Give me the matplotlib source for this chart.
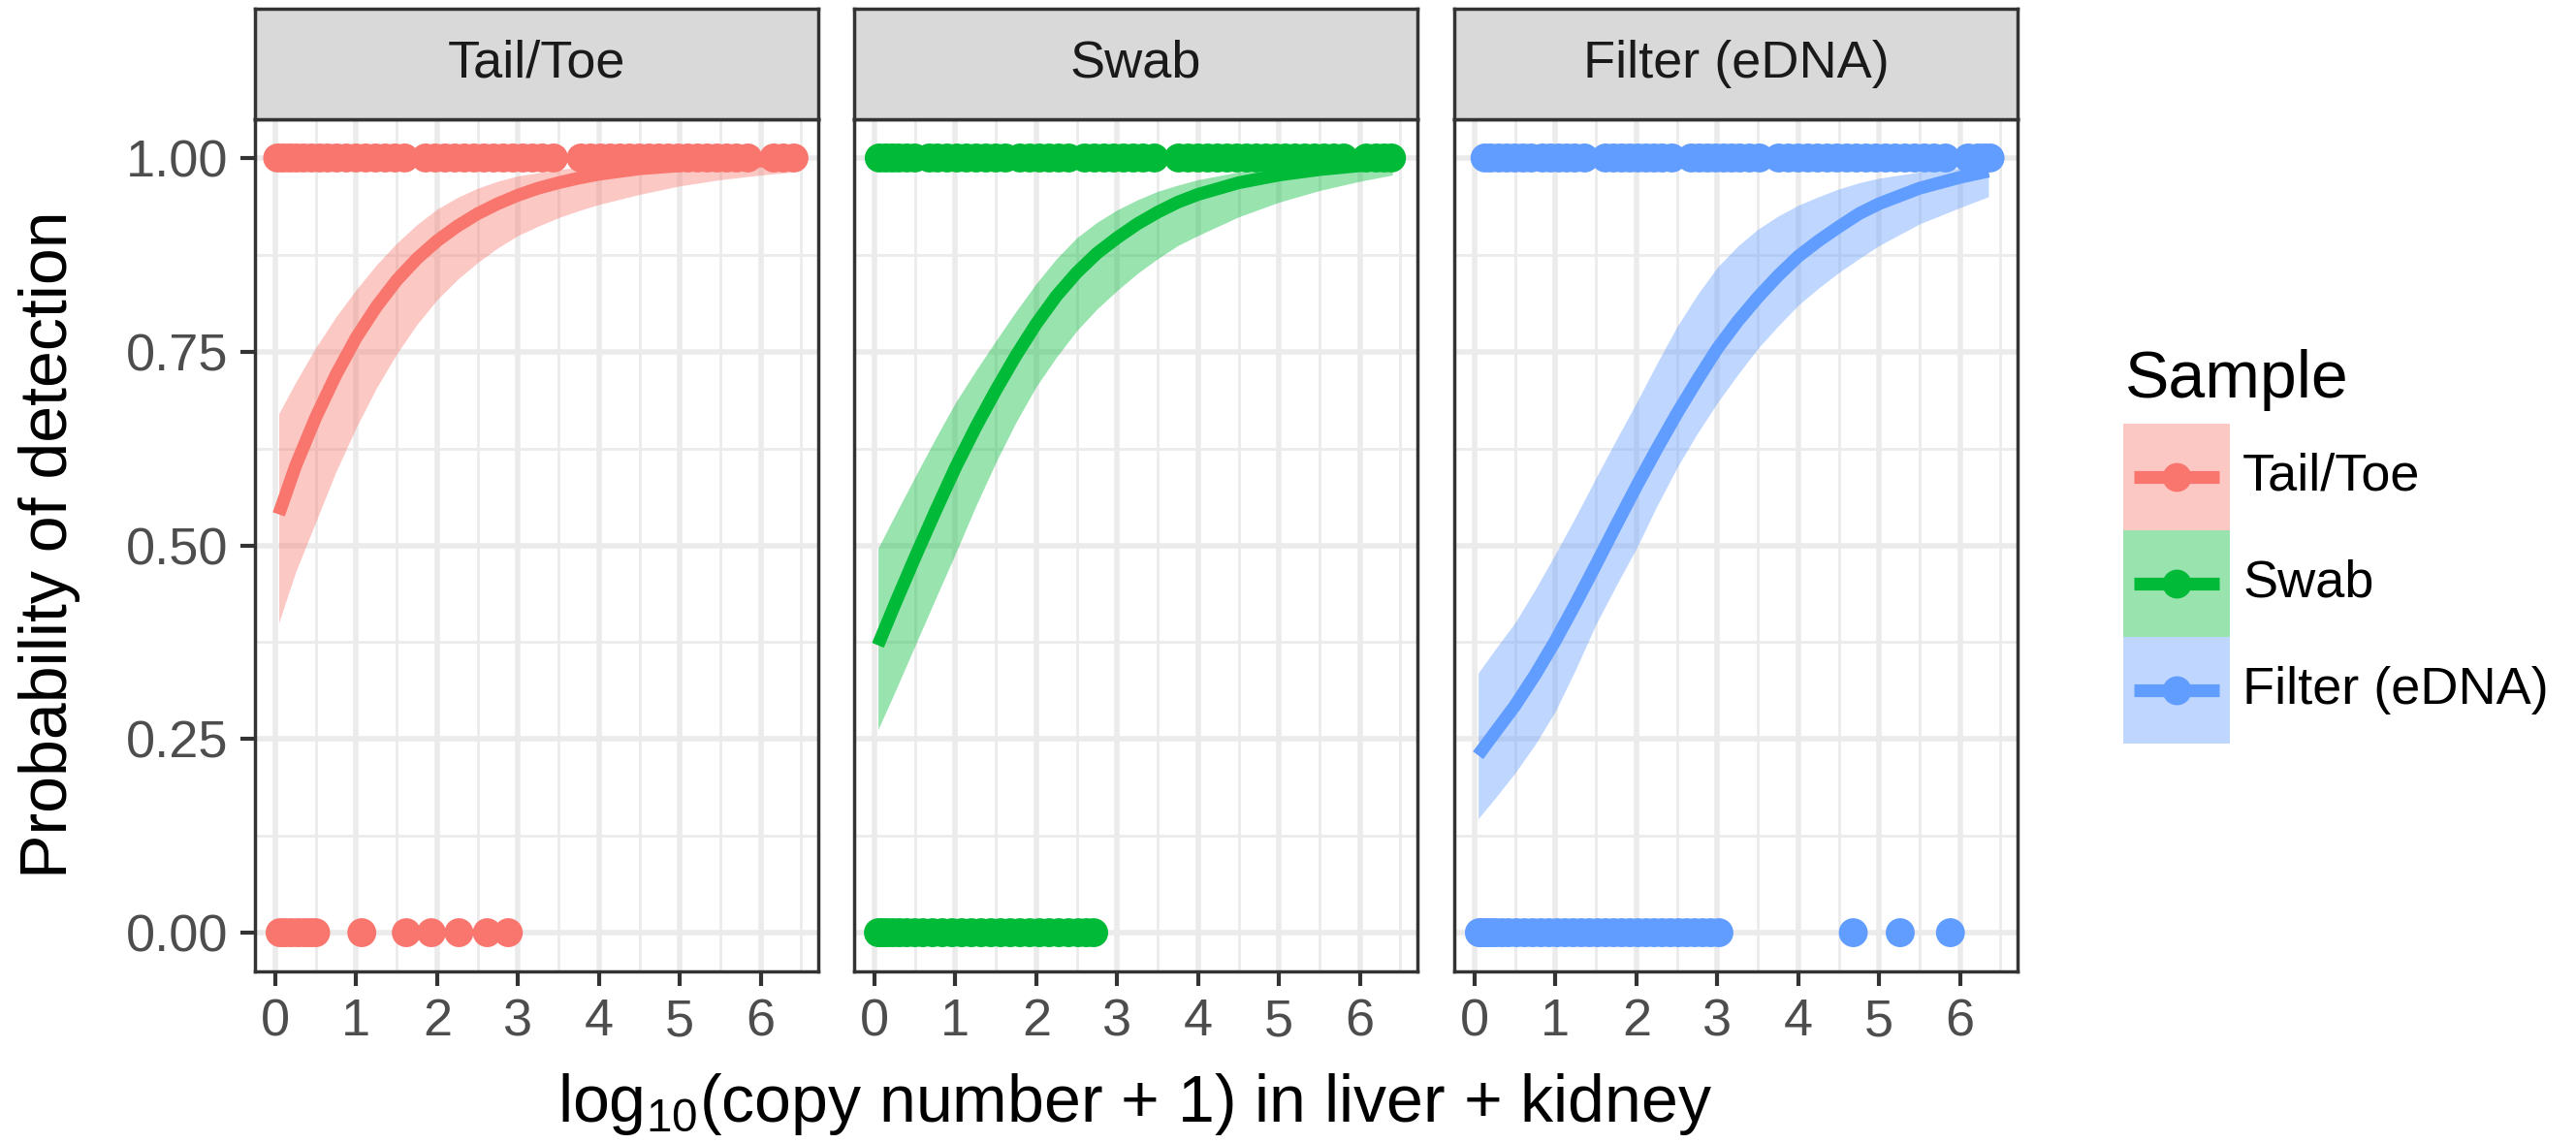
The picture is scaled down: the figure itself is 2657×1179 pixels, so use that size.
import matplotlib
matplotlib.use('Agg')
import matplotlib.pyplot as plt
from matplotlib.patches import Rectangle
from matplotlib.ticker import MultipleLocator
import numpy as np

plt.rcParams['font.family'] = ['Liberation Sans', 'DejaVu Sans']
plt.rcParams['mathtext.fontset'] = 'custom'
plt.rcParams['mathtext.rm'] = 'Liberation Sans'
plt.rcParams['mathtext.it'] = 'Liberation Sans:italic'
plt.rcParams['mathtext.default'] = 'regular'

# ---------------- data ----------------
samples = ['Tail/Toe', 'Swab', 'Filter (eDNA)']
colors = ['#F8766D', '#00BA38', '#619CFF']

# observed outcomes: x positions of detected (1) and not detected (0) samples
tail_detected = [0.03, 0.10, 0.18, 0.26, 0.35, 0.45, 0.55, 0.65, 0.76, 0.88, 1.00, 1.12, 1.24,
                 1.36, 1.48, 1.60, 1.86, 1.98, 2.10, 2.22, 2.34, 2.46, 2.58, 2.70, 2.82, 2.94,
                 3.06, 3.18, 3.30, 3.44, 3.78, 3.90, 4.02, 4.14, 4.26, 4.38, 4.50, 4.62, 4.74,
                 4.86, 4.98, 5.10, 5.22, 5.34, 5.46, 5.58, 5.70, 5.84, 6.16, 6.28, 6.41]
tail_missed = [0.06, 0.12, 0.20, 0.28, 0.36, 0.43, 0.50, 1.07, 1.62, 1.93, 2.27, 2.62, 2.88]

swab_detected = [0.06, 0.14, 0.22, 0.30, 0.40, 0.50, 0.68, 0.78, 0.90, 1.02, 1.14, 1.26, 1.38,
                 1.50, 1.62, 1.80, 1.92, 2.04, 2.16, 2.28, 2.40, 2.60, 2.72, 2.84, 2.96, 3.08,
                 3.20, 3.32, 3.46, 3.76, 3.88, 4.00, 4.12, 4.24, 4.36, 4.48, 4.60, 4.72, 4.84,
                 4.96, 5.08, 5.20, 5.32, 5.44, 5.56, 5.68, 5.80, 6.08, 6.20, 6.30, 6.39]
swab_missed = [0.05, 0.10, 0.16, 0.23, 0.31, 0.40, 0.50, 0.60, 0.72, 0.84, 0.96, 1.08, 1.20,
               1.32, 1.44, 1.56, 1.68, 1.80, 1.92, 2.04, 2.16, 2.28, 2.40, 2.52, 2.62, 2.71]

filter_detected = [0.13, 0.20, 0.30, 0.40, 0.50, 0.60, 0.70, 0.84, 0.94, 1.04, 1.14, 1.24, 1.36,
                   1.62, 1.72, 1.82, 1.92, 2.02, 2.12, 2.22, 2.32, 2.44, 2.68, 2.78, 2.88, 2.98,
                   3.08, 3.18, 3.28, 3.40, 3.52, 3.76, 3.88, 4.00, 4.12, 4.24, 4.36, 4.48, 4.60,
                   4.72, 4.84, 4.96, 5.08, 5.20, 5.32, 5.44, 5.56, 5.68, 5.82, 6.10, 6.22, 6.30, 6.37]
filter_missed = [0.06, 0.10, 0.15, 0.20, 0.26, 0.34, 0.42, 0.52, 0.62, 0.72, 0.82, 0.92, 1.02,
                 1.12, 1.22, 1.32, 1.42, 1.52, 1.62, 1.72, 1.82, 1.92, 2.02, 2.12, 2.22, 2.32,
                 2.42, 2.52, 2.62, 2.72, 2.82, 2.92, 3.02, 4.68, 5.26, 5.88]

# fitted curves with confidence band
tail_x = [0.044, 0.25, 0.5, 0.75, 1.0, 1.25, 1.5, 1.75, 2.0, 2.25, 2.5, 2.75, 3.0, 3.25, 3.5,
          3.75, 4.0, 4.5, 5.0, 5.5, 6.0, 6.4]
tail_fit = [0.54, 0.602, 0.665, 0.72, 0.768, 0.808, 0.842, 0.87, 0.893, 0.912, 0.928, 0.941,
            0.952, 0.961, 0.968, 0.974, 0.979, 0.986, 0.990, 0.994, 0.996, 0.997]
tail_hi = [0.67, 0.71, 0.755, 0.795, 0.83, 0.862, 0.89, 0.914, 0.934, 0.949, 0.961, 0.970,
           0.977, 0.981, 0.985, 0.988, 0.990, 0.993, 0.996, 0.997, 0.998, 0.999]
tail_lo = [0.40, 0.465, 0.53, 0.595, 0.652, 0.703, 0.747, 0.785, 0.817, 0.843, 0.865, 0.884,
           0.90, 0.912, 0.923, 0.932, 0.94, 0.953, 0.964, 0.972, 0.978, 0.982]

swab_x = [0.044, 0.25, 0.5, 0.75, 1.0, 1.25, 1.5, 1.75, 2.0, 2.25, 2.5, 2.75, 3.0, 3.25, 3.5,
          3.75, 4.0, 4.5, 5.0, 5.5, 6.0, 6.4]
swab_fit = [0.371, 0.423, 0.484, 0.543, 0.60, 0.652, 0.70, 0.745, 0.786, 0.822, 0.852, 0.877,
            0.897, 0.915, 0.93, 0.943, 0.953, 0.968, 0.978, 0.985, 0.990, 0.993]
swab_hi = [0.496, 0.538, 0.588, 0.637, 0.684, 0.725, 0.764, 0.802, 0.838, 0.87, 0.897, 0.917,
           0.933, 0.946, 0.957, 0.965, 0.972, 0.982, 0.988, 0.992, 0.995, 0.997]
swab_lo = [0.262, 0.31, 0.37, 0.43, 0.489, 0.55, 0.607, 0.659, 0.705, 0.743, 0.777, 0.805,
           0.829, 0.851, 0.87, 0.887, 0.90, 0.924, 0.943, 0.958, 0.970, 0.978]

filter_x = [0.044, 0.25, 0.5, 0.75, 1.0, 1.25, 1.5, 1.75, 2.0, 2.25, 2.5, 2.75, 3.0, 3.25, 3.5,
            3.75, 4.0, 4.25, 4.5, 4.75, 5.0, 5.5, 6.0, 6.35]
filter_fit = [0.229, 0.258, 0.293, 0.333, 0.377, 0.425, 0.475, 0.526, 0.576, 0.624, 0.67, 0.713,
              0.754, 0.789, 0.82, 0.848, 0.873, 0.893, 0.911, 0.928, 0.941, 0.961, 0.975, 0.983]
filter_hi = [0.335, 0.365, 0.40, 0.443, 0.489, 0.537, 0.587, 0.636, 0.684, 0.734, 0.782, 0.823,
             0.859, 0.886, 0.908, 0.925, 0.939, 0.95, 0.96, 0.968, 0.974, 0.982, 0.987, 0.990]
filter_lo = [0.147, 0.173, 0.206, 0.243, 0.286, 0.34, 0.398, 0.448, 0.496, 0.55, 0.60, 0.644,
             0.684, 0.72, 0.754, 0.783, 0.81, 0.832, 0.852, 0.87, 0.887, 0.915, 0.936, 0.950]

x_ticks = [0, 1, 2, 3, 4, 5, 6]
y_ticks = [0.0, 0.25, 0.5, 0.75, 1.0]
y_ticklabels = ['0.00', '0.25', '0.50', '0.75', '1.00']

detected = [tail_detected, swab_detected, filter_detected]
missed = [tail_missed, swab_missed, filter_missed]
curve_x = [tail_x, swab_x, filter_x]
curve_fit = [tail_fit, swab_fit, filter_fit]
curve_hi = [tail_hi, swab_hi, filter_hi]
curve_lo = [tail_lo, swab_lo, filter_lo]

# ---------------- layout ----------------
W, H, DPI = 2657, 1179, 100
fig = plt.figure(figsize=(W / DPI, H / DPI), dpi=DPI)

panel_left = [263, 881, 1500]
pw = 581
ptop, pbot = 123, 1002
strip_top = 9
border = '#333333'
small_fs = 39
big_fs = 49
lw_line = 9.5
ms = 21.5

for i, s in enumerate(samples):
    c = colors[i]
    ax = fig.add_axes([panel_left[i] / W, 1 - pbot / H, pw / W, (pbot - ptop) / H])
    ax.set_xlim(-0.25, 6.71)
    ax.set_ylim(-0.05, 1.05)
    ax.set_axisbelow(True)
    ax.set_xticks(x_ticks)
    ax.set_xticklabels([str(t) for t in x_ticks])
    ax.set_yticks(y_ticks)
    if i == 0:
        ax.set_yticklabels(y_ticklabels)
    else:
        ax.set_yticklabels([])
    ax.xaxis.set_minor_locator(MultipleLocator(0.5))
    ax.yaxis.set_minor_locator(MultipleLocator(0.125))
    ax.grid(which='major', color='#EBEBEB', lw=4)
    ax.grid(which='minor', color='#EBEBEB', lw=2)
    ax.tick_params(which='minor', length=0)
    ax.tick_params(which='major', direction='out', length=10.8, width=3, color=border,
                   labelcolor='#4D4D4D', labelsize=small_fs, pad=9)
    if i > 0:
        ax.tick_params(axis='y', length=0)
    for sp in ax.spines.values():
        sp.set_color(border)
        sp.set_linewidth(2.5)

    ax.scatter(detected[i], np.ones(len(detected[i])), s=ms ** 2, color=c, edgecolors='none', zorder=2)
    ax.scatter(missed[i], np.zeros(len(missed[i])), s=ms ** 2, color=c, edgecolors='none', zorder=2)
    ax.fill_between(curve_x[i], curve_lo[i], curve_hi[i], color=c, alpha=0.4, lw=0, zorder=3)
    ax.plot(curve_x[i], curve_fit[i], color=c, lw=lw_line, solid_capstyle='butt',
            solid_joinstyle='round', zorder=4)

    sax = fig.add_axes([panel_left[i] / W, 1 - ptop / H, pw / W, (ptop - strip_top) / H])
    sax.set_facecolor('#D9D9D9')
    sax.set_xticks([])
    sax.set_yticks([])
    for sp in sax.spines.values():
        sp.set_color(border)
        sp.set_linewidth(2.5)
    sax.text(0.5, 0.5, s, ha='center', va='center', fontsize=small_fs, color='#1A1A1A',
             transform=sax.transAxes)

# axis titles
fig.text(51 / W, 1 - 562 / H, 'Probability of detection', rotation=90, ha='center', va='center',
         fontsize=big_fs, color='black')
fig.text(1171 / W, 1 - 1139 / H, 'log$_{10}$(copy number + 1) in liver + kidney', ha='center',
         va='center', fontsize=big_fs, color='black')

# legend
lax = fig.add_axes([0, 0, 1, 1])
lax.set_xlim(0, W)
lax.set_ylim(H, 0)
lax.axis('off')
lax.patch.set_alpha(0)
lax.text(2192, 410, 'Sample', ha='left', va='baseline', fontsize=big_fs, color='black')
key_left, key_w, key_h, key_top0 = 2190, 110, 110, 437
for i, s in enumerate(samples):
    top = key_top0 + i * key_h
    cy = top + key_h / 2
    lax.add_patch(Rectangle((key_left, top), key_w, key_h, facecolor=colors[i], alpha=0.4, lw=0))
    lax.plot([key_left + 11, key_left + key_w - 11], [cy, cy], color=colors[i], lw=lw_line,
             solid_capstyle='butt')
    lax.plot([key_left + key_w / 2], [cy], 'o', color=colors[i], ms=ms, mec='none')
    lax.text(2313, cy, s, ha='left', va='center', fontsize=small_fs, color='black')

fig.savefig('out.png', dpi=DPI, facecolor='white')
